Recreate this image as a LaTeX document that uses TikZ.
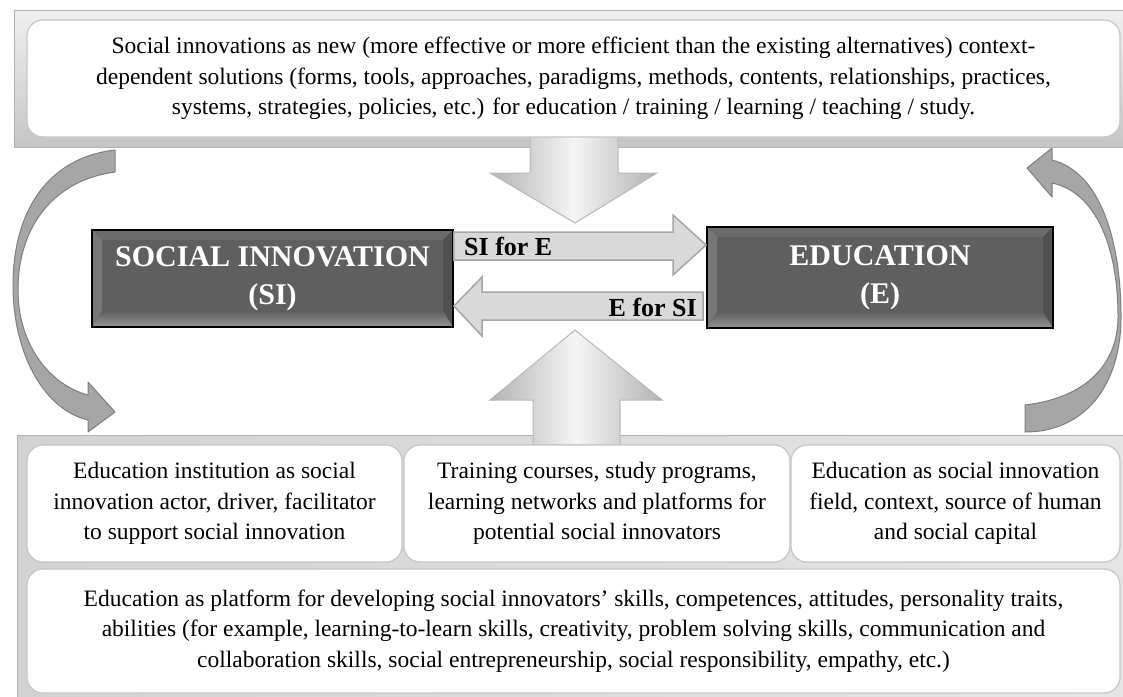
\documentclass[tikz,border=0pt]{standalone}
\usepackage{fontspec}
\setmainfont{Liberation Serif}
\usetikzlibrary{calc}
\definecolor{dkface}{HTML}{5F5F5F}
\definecolor{dktop}{HTML}{6B6B6B}
\definecolor{dkleft}{HTML}{777777}
\definecolor{dkright}{HTML}{505050}
\definecolor{dkbot}{HTML}{959595}
\definecolor{cgray}{HTML}{A6A6A6}
\definecolor{cgrayd}{HTML}{7F7F7F}
\definecolor{bgray}{HTML}{D9D9D9}
\definecolor{bgrayd}{HTML}{A6A6A6}
\newcommand\txtfont{\fontsize{23.5}{30.5}\selectfont}
\tikzset{
  frameshape/.style={draw=gray!60, line width=1pt, top color=gray!12, bottom color=gray!45},
  framebot/.style={draw=gray!60, line width=1pt, left color=gray!35, right color=gray!20},
  wbox/.style={draw=gray!45, line width=1.2pt, fill=white, rounded corners=16pt, align=center, inner sep=0pt, font=\txtfont},
  darkbox/.style={draw=black, line width=1.8pt, fill=dkface, text=white, align=center, inner sep=0pt,
    font=\bfseries\fontsize{30}{38}\selectfont,
    path picture={
      \coordinate (pnw) at (path picture bounding box.north west);
      \coordinate (pse) at (path picture bounding box.south east);
      \coordinate (inw) at ($(pnw)+(10pt,-10pt)$);
      \coordinate (ise) at ($(pse)+(-10pt,16pt)$);
      \fill[dktop] (pnw) -- (pnw -| pse) -- (inw -| ise) -- (inw) -- cycle;
      \fill[dkleft] (pnw) -- (inw) -- (inw |- ise) -- (pnw |- pse) -- cycle;
      \fill[dkright] (pnw -| pse) -- (pse) -- (ise) -- (inw -| ise) -- cycle;
      \fill[top color=dkface, bottom color=dkbot] (pnw |- pse) -- (pse) -- (ise) -- (inw |- ise) -- cycle;
    }},
  curvarrow/.style={fill=cgray, draw=cgrayd, line width=1pt, line join=round},
  blockarrow/.style={fill=bgray, draw=bgrayd, line width=1.5pt},
  bigarrow/.style={draw=gray!55, line width=1pt, left color=gray!60, right color=gray!60, middle color=gray!8},
  lbl/.style={font=\bfseries\fontsize{26}{30}\selectfont, inner sep=0pt}
}
\begin{document}
\begin{tikzpicture}[x=1pt,y=-1pt]
\useasboundingbox (0,0) rectangle (1123,696);
\clip (0,0) rectangle (1123,696);
\fill[white] (0,0) rectangle (1123,696);

% curved arrows
\filldraw[curvarrow] (115,150) .. controls (45,158) and (13,215) .. (13,285)
  .. controls (13,355) and (45,410) .. (88,420) -- (88,432) -- (115,412) -- (88,382) -- (88,395)
  .. controls (50,385) and (18,345) .. (18,290) .. controls (18,225) and (55,180) .. (115,172) -- cycle;
\filldraw[curvarrow] (1025,405) .. controls (1085,398) and (1118,365) .. (1118,317)
  .. controls (1118,245) and (1095,192) .. (1052,183) -- (1052,197) -- (1027,168) -- (1052,148) -- (1052,160)
  .. controls (1100,172) and (1121,240) .. (1121,317) .. controls (1121,385) and (1085,432) .. (1025,432) -- cycle;

% frames
\path[frameshape] (14,10) rectangle (1135,147);
\path[framebot] (17,435) rectangle (1135,710);

% big arrows
\path[bigarrow] (530,136) -- (618,136) -- (618,173) -- (657,173) -- (575,223) -- (490,173) -- (530,173) -- cycle;
\path[bigarrow] (533,445) -- (533,400) -- (490,400) -- (575,330) -- (662,400) -- (620,400) -- (620,445) -- cycle;

% white boxes
\node[wbox, minimum width=1093, minimum height=117] (top) at (573.5,78.5)
  {Social innovations as new (more effective or more efficient than the existing alternatives) context-\\
   dependent solutions (forms, tools, approaches, paradigms, methods, contents, relationships, practices,\\
   systems, strategies, policies, etc.) for education / training / learning / teaching / study.};
\node[wbox, minimum width=375, minimum height=117] (b1) at (214.5,503.5)
  {Education institution as social\\innovation actor, driver, facilitator\\to support social innovation};
\node[wbox, minimum width=386, minimum height=117] (b2) at (597,503.5)
  {Training courses, study programs,\\learning networks and platforms for\\potential social innovators};
\node[wbox, minimum width=329, minimum height=117] (b3) at (955.5,503.5)
  {Education as social innovation\\field, context, source of human\\and social capital};
\node[wbox, minimum width=1093, minimum height=124] (b4) at (573.5,631)
  {Education as platform for developing social innovators’ skills, competences, attitudes, personality traits,\\
   abilities (for example, learning-to-learn skills, creativity, problem solving skills, communication and\\
   collaboration skills, social entrepreneurship, social responsibility, empathy, etc.)};

% dark boxes
\node[darkbox, minimum width=361, minimum height=97] (si) at (272.5,278.5) {SOCIAL INNOVATION\\(SI)};
\node[darkbox, minimum width=346, minimum height=101] (ed) at (880,277.5) {EDUCATION\\(E)};

% block arrows between si and ed
\path[blockarrow] (si.east |- 0,232) -- (673,232) -- (673,215) -- (ed.west |- 0,245) -- (673,275) -- (673,260) -- (si.east |- 0,260) -- cycle;
\path[blockarrow] (703,292) -- (482,292) -- (482,277) -- (si.east |- 0,306) -- (482,336) -- (482,320) -- (703,320) -- cycle;
\node[lbl, anchor=west] (sife) at (464,246) {SI for E};
\node[lbl, anchor=east] (efsi) at (697,307) {E for SI};
\end{tikzpicture}
\end{document}
